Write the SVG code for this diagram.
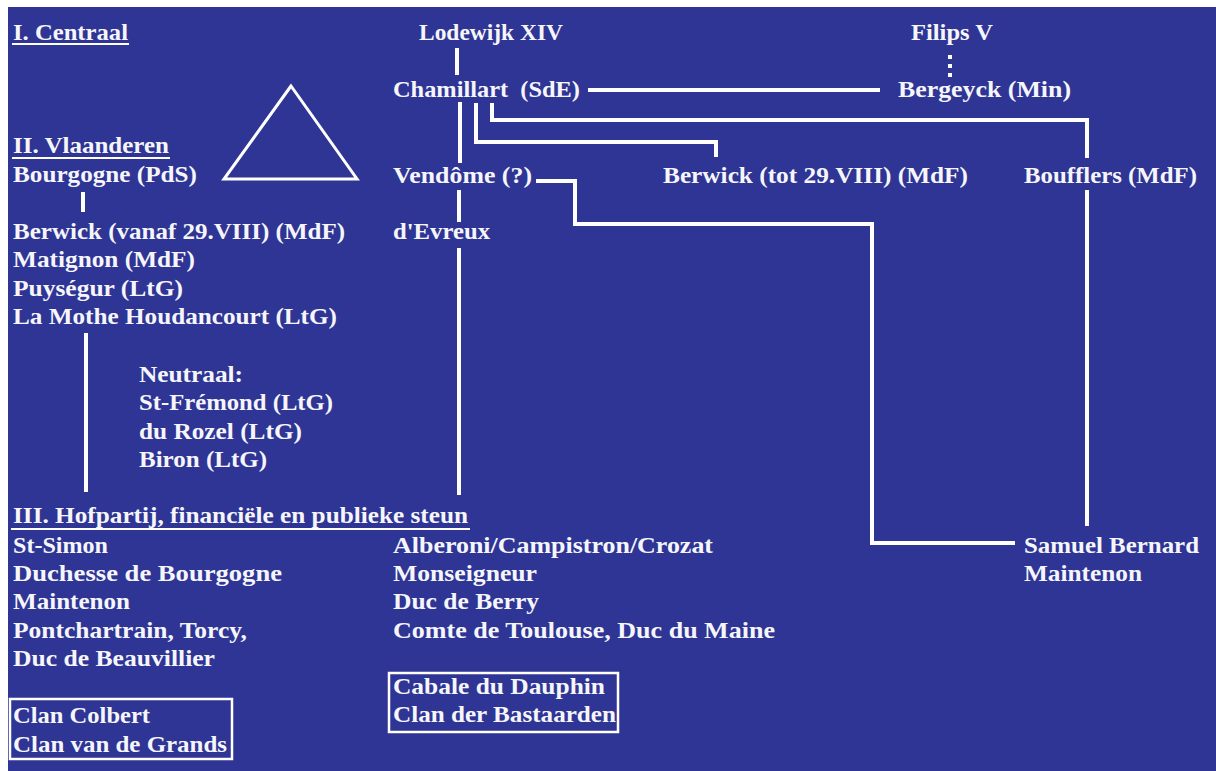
<svg xmlns="http://www.w3.org/2000/svg" width="1216" height="771" viewBox="0 0 1216 771">
<style>
text{font-family:"Liberation Serif","Times New Roman",serif;font-size:23px;font-weight:bold;fill:#f6f6fa;}
.ln{stroke:#ffffff;stroke-width:4;fill:none;stroke-linejoin:miter;}
.ul{stroke:#ffffff;stroke-width:2;}
.box{stroke:#ffffff;stroke-width:2.5;fill:none;}
</style>
<rect x="0" y="0" width="1216" height="771" fill="#ffffff"/>
<rect x="8" y="7" width="1208" height="764" fill="#2e3594"/>

<g id="connectors">
<line class="ln" x1="457" y1="48" x2="457" y2="75"/>
<line class="ln" x1="588" y1="90" x2="880" y2="90"/>
<line class="ln" x1="950" y1="55" x2="950" y2="77" stroke-dasharray="4 5" stroke-width="3"/>
<line class="ln" x1="460" y1="102" x2="460" y2="163"/>
<polyline class="ln" points="476,103 476,142 716,142 716,157"/>
<polyline class="ln" points="492,103 492,120 1087,120 1087,158"/>
<line class="ln" x1="1087" y1="190" x2="1087" y2="526"/>
<line class="ln" x1="459" y1="190" x2="459" y2="222"/>
<polyline class="ln" points="536,181 575,181 575,224 872,224 872,543 1015,543"/>
<line class="ln" x1="83" y1="192" x2="83" y2="212"/>
<line class="ln" x1="86" y1="333" x2="86" y2="492"/>
<line class="ln" x1="459" y1="248" x2="459" y2="495"/>
</g>

<g id="triangle">
<polygon points="291,86 224,179 357,179" fill="none" stroke="#ffffff" stroke-width="3"/>
</g>

<g id="sec-centraal">
<text x="13" y="40" textLength="115" lengthAdjust="spacingAndGlyphs">I. Centraal</text>
<line class="ul" x1="12" y1="44" x2="129" y2="44"/>
</g>
<g id="lodewijk"><text x="419" y="40" textLength="144" lengthAdjust="spacingAndGlyphs">Lodewijk XIV</text></g>
<g id="filips"><text x="911" y="40" textLength="82" lengthAdjust="spacingAndGlyphs">Filips V</text></g>
<g id="chamillart"><text x="393" y="97" textLength="187" lengthAdjust="spacingAndGlyphs" xml:space="preserve">Chamillart  (SdE)</text></g>
<g id="bergeyck"><text x="898" y="97" textLength="173" lengthAdjust="spacingAndGlyphs">Bergeyck (Min)</text></g>

<g id="sec-vlaanderen">
<text x="13" y="153" textLength="156" lengthAdjust="spacingAndGlyphs">II. Vlaanderen</text>
<line class="ul" x1="12" y1="158" x2="170" y2="158"/>
</g>
<g id="bourgogne"><text x="13" y="182" textLength="184" lengthAdjust="spacingAndGlyphs">Bourgogne (PdS)</text></g>
<g id="vendome"><text x="393" y="183" textLength="139" lengthAdjust="spacingAndGlyphs">Vendôme (?)</text></g>
<g id="berwick-tot"><text x="663" y="183" textLength="305" lengthAdjust="spacingAndGlyphs">Berwick (tot 29.VIII) (MdF)</text></g>
<g id="boufflers"><text x="1024" y="183" textLength="173" lengthAdjust="spacingAndGlyphs">Boufflers (MdF)</text></g>
<g id="evreux"><text x="393" y="239" textLength="97" lengthAdjust="spacingAndGlyphs">d'Evreux</text></g>

<g id="vlaanderen-list">
<text x="13" y="239" textLength="332" lengthAdjust="spacingAndGlyphs">Berwick (vanaf 29.VIII) (MdF)</text>
<text x="13" y="267" textLength="182" lengthAdjust="spacingAndGlyphs">Matignon (MdF)</text>
<text x="13" y="296" textLength="170" lengthAdjust="spacingAndGlyphs">Puységur (LtG)</text>
<text x="13" y="324" textLength="324" lengthAdjust="spacingAndGlyphs">La Mothe Houdancourt (LtG)</text>
</g>

<g id="neutraal">
<text x="139" y="382" textLength="104" lengthAdjust="spacingAndGlyphs">Neutraal:</text>
<text x="139" y="410" textLength="194" lengthAdjust="spacingAndGlyphs">St-Frémond (LtG)</text>
<text x="139" y="439" textLength="163" lengthAdjust="spacingAndGlyphs">du Rozel (LtG)</text>
<text x="139" y="467" textLength="128" lengthAdjust="spacingAndGlyphs">Biron (LtG)</text>
</g>

<g id="sec-hofpartij">
<text x="13" y="523" textLength="455" lengthAdjust="spacingAndGlyphs">III. Hofpartij, financiële en publieke steun</text>
<line class="ul" x1="11" y1="529" x2="470" y2="529"/>
</g>

<g id="hof-left">
<text x="13" y="553" textLength="95" lengthAdjust="spacingAndGlyphs">St-Simon</text>
<text x="13" y="581" textLength="269" lengthAdjust="spacingAndGlyphs">Duchesse de Bourgogne</text>
<text x="13" y="609" textLength="117" lengthAdjust="spacingAndGlyphs">Maintenon</text>
<text x="13" y="638" textLength="234" lengthAdjust="spacingAndGlyphs">Pontchartrain, Torcy,</text>
<text x="13" y="666" textLength="202" lengthAdjust="spacingAndGlyphs">Duc de Beauvillier</text>
</g>
<g id="clan-colbert">
<rect class="box" x="10" y="699" width="222" height="60"/>
<text x="13" y="723" textLength="137" lengthAdjust="spacingAndGlyphs">Clan Colbert</text>
<text x="13" y="752" textLength="214" lengthAdjust="spacingAndGlyphs">Clan van de Grands</text>
</g>

<g id="hof-middle">
<text x="393" y="553" textLength="320" lengthAdjust="spacingAndGlyphs">Alberoni/Campistron/Crozat</text>
<text x="393" y="581" textLength="144" lengthAdjust="spacingAndGlyphs">Monseigneur</text>
<text x="393" y="609" textLength="146" lengthAdjust="spacingAndGlyphs">Duc de Berry</text>
<text x="393" y="638" textLength="382" lengthAdjust="spacingAndGlyphs">Comte de Toulouse, Duc du Maine</text>
</g>
<g id="cabale">
<rect class="box" x="389" y="673" width="229" height="59"/>
<text x="393" y="694" textLength="212" lengthAdjust="spacingAndGlyphs">Cabale du Dauphin</text>
<text x="393" y="722" textLength="223" lengthAdjust="spacingAndGlyphs">Clan der Bastaarden</text>
</g>

<g id="hof-right">
<text x="1024" y="553" textLength="175" lengthAdjust="spacingAndGlyphs">Samuel Bernard</text>
<text x="1024" y="581" textLength="118" lengthAdjust="spacingAndGlyphs">Maintenon</text>
</g>
</svg>
